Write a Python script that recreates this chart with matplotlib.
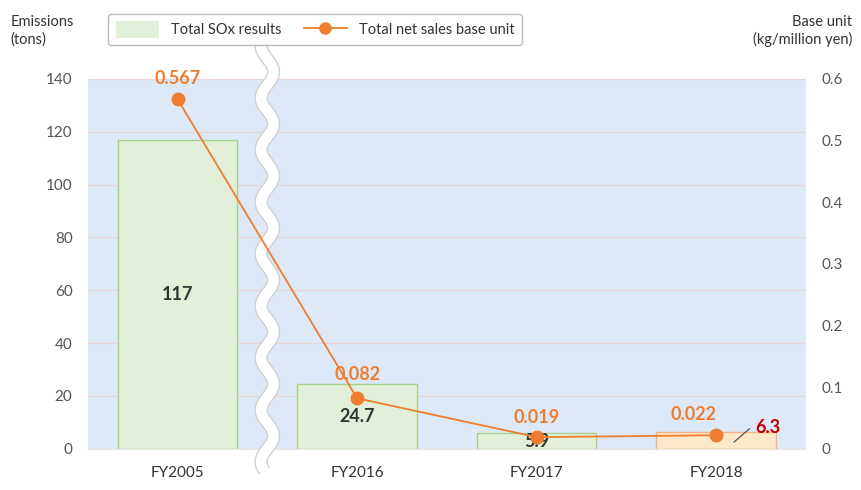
import numpy as np
import matplotlib.pyplot as plt
from matplotlib.patches import Patch
from matplotlib.lines import Line2D
import matplotlib.transforms as mtransforms

plt.rcParams['font.family'] = ['Lato', 'DejaVu Sans']

years = ['FY2005', 'FY2016', 'FY2017', 'FY2018']
sox = [117, 24.7, 5.9, 6.3]
base_unit = [0.567, 0.082, 0.019, 0.022]

green_face = '#e2f0d9'
green_edge = '#a9d18e'
orange_face = '#fde9c9'
orange_edge = '#f4b183'
line_col = '#ef7d30'
text_gray = '#555555'

fig = plt.figure(figsize=(8.61, 4.9), dpi=100)
ax = fig.add_axes([0.102, 0.084, 0.834, 0.755])
ax2 = ax.twinx()

x = np.arange(len(years))
ax.set_facecolor('#dde9f6')
ax.set_xlim(-0.5, 3.5)
ax.set_ylim(0, 140)
ax.set_yticks(np.arange(0, 141, 20))
ax.grid(axis='y', color='#ecd3d3', lw=0.9)
ax.set_axisbelow(True)

faces = [green_face] * 3 + [orange_face]
edges = [green_edge] * 3 + [orange_edge]
ax.bar(x, sox, width=0.665, color=faces, edgecolor=edges, lw=1.0, zorder=2)

for xi, v in zip(x[:3], sox[:3]):
    ax.text(xi, v / 2, f'{v:g}', ha='center', va='center', fontsize=13,
            fontweight='bold', color='#333333', zorder=6)

# small value on the last bar, with a leader line
ax.plot([x[3] + 0.10, x[3] + 0.185], [sox[3] * 0.41, sox[3] * 1.2],
        color='#555555', lw=0.9, zorder=6)
ax.text(x[3] + 0.29, sox[3] + 1.6, f'{sox[3]:g}', fontsize=13,
        fontweight='bold', color='#c00000', ha='center', va='center', zorder=6)

ax2.set_ylim(0, 0.6)
ax2.set_yticks([0, 0.1, 0.2, 0.3, 0.4, 0.5, 0.6])
ax2.set_yticklabels(['0', '0.1', '0.2', '0.3', '0.4', '0.5', '0.6'])
ax2.plot(x, base_unit, color=line_col, lw=1.3, marker='o', ms=9, zorder=5)

offsets = [(0, 15), (0, 17), (0, 14), (-16, 15)]
for xi, v, off in zip(x, base_unit, offsets):
    ax2.annotate(f'{v:.3f}', xy=(xi, v), xytext=off, textcoords='offset points',
                 ha='center', va='center', fontsize=13, fontweight='bold',
                 color=line_col, zorder=6)

for a in (ax, ax2):
    for s in a.spines.values():
        s.set_visible(False)
    a.tick_params(length=0, labelsize=11, colors=text_gray, pad=11)
ax.spines['bottom'].set_visible(True)
ax.spines['bottom'].set_color('#e6e6e6')
ax.set_xticks(x)
ax.set_xticklabels(years, fontsize=11, color='#333333')
ax.tick_params(axis='x', pad=12)

# wavy axis break between FY2005 and FY2016
tr = mtransforms.blended_transform_factory(ax.transData, ax.transAxes)
t = np.linspace(-0.06, 1.105, 600)
wx = 0.5 + 0.035 * np.sin(2 * np.pi * t * 370 / 52)
ax.plot(wx, t, color='#cfcfcf', lw=9.5, transform=tr, clip_on=False, zorder=7,
        solid_capstyle='butt')
ax.plot(wx, t, color='white', lw=7.5, transform=tr, clip_on=False, zorder=8,
        solid_capstyle='butt')

fig.text(0.012, 0.97, 'Emissions\n(tons)', ha='left', va='top', fontsize=10.5,
         color='#333333', linespacing=1.3)
fig.text(0.99, 0.97, 'Base unit\n(kg/million yen)', ha='right', va='top',
         fontsize=10.5, color='#333333', linespacing=1.3, multialignment='right')

handles = [Patch(facecolor=green_face, edgecolor='none'),
           Line2D([], [], color=line_col, marker='o', ms=8, lw=1.3)]
leg = fig.legend(handles, ['Total SOx results', 'Total net sales base unit'],
                 loc='center', bbox_to_anchor=(0.366, 0.94), ncol=2,
                 frameon=True, fancybox=True, fontsize=10.5, handlelength=3,
                 handleheight=1.4, columnspacing=1.5, borderpad=0.5)
leg.get_frame().set_edgecolor('#aaaaaa')
leg.get_frame().set_linewidth(1.0)
for txt in leg.get_texts():
    txt.set_color('#333333')

fig.savefig('out.png', dpi=100)
